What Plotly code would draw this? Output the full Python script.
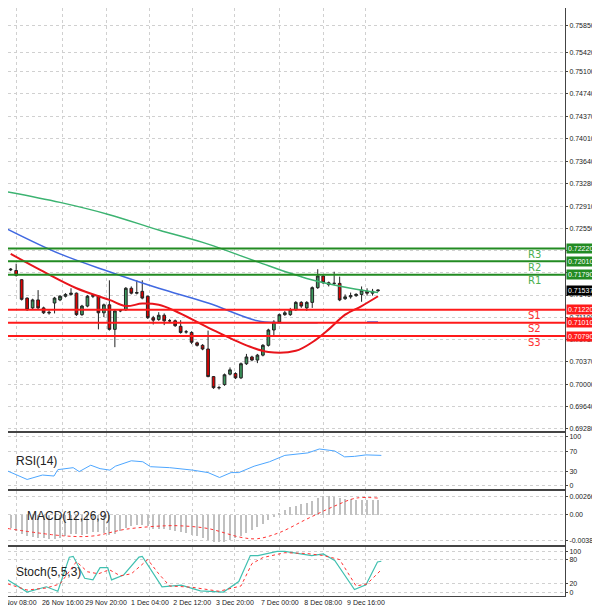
import plotly.graph_objects as go
from plotly.subplots import make_subplots

# 4H candles, index positions on x
opens = [0.7187,0.7186,0.7171,0.7141,0.7125,0.7138,0.7125,0.7118,0.7133,0.7138,0.7144,0.7147,0.7149,0.7114,0.7128,0.7144,0.7144,0.7117,0.7130,0.7090,0.7120,0.7122,0.7157,0.7149,0.7152,0.7144,0.7109,0.7106,0.7113,0.7104,0.7104,0.7095,0.7086,0.7085,0.7068,0.7064,0.7058,0.7013,0.6995,0.7000,0.7017,0.7018,0.7011,0.7034,0.7045,0.7040,0.7048,0.7064,0.7089,0.7102,0.7114,0.7114,0.7122,0.7134,0.7125,0.7134,0.7158,0.7177,0.7166,0.7165,0.7165,0.7140,0.7143,0.7145,0.7147,0.7152,0.7149,0.7153]
closes = [0.7188,0.7178,0.7139,0.7122,0.7138,0.7125,0.7117,0.7117,0.7141,0.7144,0.7147,0.7149,0.7114,0.7128,0.7144,0.7145,0.7117,0.7130,0.7090,0.7120,0.7121,0.7157,0.7149,0.7150,0.7141,0.7109,0.7105,0.7113,0.7104,0.7104,0.7096,0.7085,0.7086,0.7069,0.7064,0.7058,0.7013,0.6995,0.6995,0.7016,0.7024,0.7011,0.7034,0.7045,0.7040,0.7048,0.7064,0.7089,0.7102,0.7114,0.7117,0.7122,0.7134,0.7128,0.7134,0.7158,0.7177,0.7166,0.7163,0.7165,0.7138,0.7143,0.7145,0.7147,0.7154,0.7149,0.7152,0.7154]
highs = [0.7190,0.7197,0.7172,0.7142,0.7140,0.7154,0.7127,0.7121,0.7143,0.7146,0.7149,0.7157,0.7150,0.7130,0.7146,0.7147,0.7146,0.7132,0.7170,0.7122,0.7123,0.7159,0.7160,0.7170,0.7170,0.7145,0.7112,0.7118,0.7116,0.7107,0.7106,0.7105,0.7089,0.7087,0.7070,0.7066,0.7088,0.7014,0.6998,0.7018,0.7028,0.7020,0.7036,0.7050,0.7047,0.7050,0.7066,0.7091,0.7105,0.7116,0.7120,0.7125,0.7136,0.7136,0.7136,0.7160,0.7188,0.7179,0.7168,0.7184,0.7176,0.7147,0.7150,0.7149,0.7160,0.7157,0.7156,0.7155]
lows = [0.7185,0.7176,0.7137,0.7120,0.7123,0.7123,0.7115,0.7114,0.7116,0.7136,0.7142,0.7145,0.7112,0.7112,0.7126,0.7141,0.7090,0.7110,0.7088,0.7061,0.7118,0.7120,0.7147,0.7147,0.7139,0.7107,0.7098,0.7104,0.7097,0.7101,0.7094,0.7083,0.7083,0.7066,0.7062,0.7056,0.7012,0.6993,0.6992,0.6998,0.7015,0.7009,0.7009,0.7032,0.7038,0.7035,0.7046,0.7062,0.7080,0.7100,0.7112,0.7112,0.7120,0.7125,0.7120,0.7125,0.7156,0.7164,0.7160,0.7162,0.7136,0.7138,0.7140,0.7143,0.7135,0.7145,0.7145,0.7151]
bars = list(range(len(opens)))

ma_red_x = [0,6,12,18,21,24,27,30,36,43,47,52,55,58,61,64,67]
ma_red = [0.7213,0.7184,0.7157,0.7138,0.7128,0.7132,0.7130,0.7120,0.7093,0.7064,0.7053,0.7055,0.7069,0.7090,0.7114,0.7128,0.7144]
ma_blue_x = [-0.5,9,18,27,36,45,49,56,58,63,65,67]
ma_blue = [0.7253,0.7213,0.7184,0.7157,0.7133,0.7104,0.7101,0.7101,None,None,0.7102,0.7102]
ma_green_x = [-0.5,9,18,27,36,45,54,62,67]
ma_green = [0.7314,0.7297,0.7277,0.7252,0.7229,0.7200,0.7173,0.7157,0.7150]

res_levels = [0.7222, 0.7201, 0.7179]
sup_levels = [0.7122, 0.7101, 0.7079]
res_names = ["R3", "R2", "R1"]
sup_names = ["S1", "S2", "S3"]
last_price = 0.71537

rsi_x = [-0.5,3,5.8,7.9,8.6,11.4,12.5,14.6,16.3,18.1,19.1,22,24.1,25.5,29,33.2,36,38.1,40.2,41.6,44.4,47.2,50,54.2,56.3,59.1,60.9,62.7,64.8,67.6]
rsi = [30,13,22,20,33,37,29,42,35,32,40,51,49,39,37,32,27,17,27,27,40,49,62,67,75,71,59,60,63,62]

macd_hist = [-0.0020,-0.0024,-0.0028,-0.0031,-0.0033,-0.0034,-0.0035,-0.0036,-0.0036,-0.0034,
             -0.0031,-0.0029,-0.0028,-0.0030,-0.0028,-0.0025,-0.0026,-0.0027,-0.0030,-0.0028,
             -0.0024,-0.0020,-0.0017,-0.0016,-0.0016,-0.0017,-0.0021,-0.0022,-0.0022,-0.0023,
             -0.0024,-0.0026,-0.0027,-0.0030,-0.0032,-0.0034,-0.0038,-0.0040,-0.0041,-0.0040,
             -0.0037,-0.0034,-0.0032,-0.0027,-0.0023,-0.0019,-0.0014,-0.0008,-0.0003,0.0003,
             0.0007,0.0011,0.0013,0.0016,0.0017,0.0020,0.0024,0.0027,0.0027,0.0026,
             0.0024,0.0023,0.0023,0.0022,0.0022,0.0022,0.0021,0.0021]
macd_sig_x = [-0.5,10,15,21,28,31,36,42,45,49,54,59,63,67]
macd_sig = [-0.0021,-0.0032,-0.0032,-0.0022,-0.0017,-0.0017,-0.0021,-0.0034,-0.0036,-0.0027,-0.0007,0.0012,0.0024,0.0024]

stoch_x = [-0.5,3,6.5,8.6,10.7,11.4,13.5,15,16.3,17.7,18.4,20.6,23.4,24,27.6,31.1,34.6,38.8,41.6,43.7,45.1,48.6,50,54.9,57,59.1,62.7,64.8,66.9,67.6]
stoch_k = [30,0,13,2,86,88,34,30,60,60,30,42,86,88,13,17,3,0,26,90,90,100,100,90,94,78,6,18,74,76]
stoch_dx = [-0.5,3,6.5,9,12,14,16,18,20,22,25,27,29,33,38,42,44,46,50,54,57,60,63,65,67.6]
stoch_d = [20,5,10,20,75,50,45,55,40,45,80,45,15,12,2,15,70,85,97,95,90,80,15,20,55]

date_pos = [1, 9.5, 17.4, 25.4, 33.1, 40.9, 49.1, 57, 64.8]
date_labels = ["25 Nov 08:00", "26 Nov 16:00", "29 Nov 20:00", "1 Dec 04:00", "2 Dec 12:00",
               "3 Dec 20:00", "7 Dec 00:00", "8 Dec 08:00", "9 Dec 16:00"]
price_ticks = [0.7585,0.7542,0.7510,0.7474,0.7437,0.7401,0.7364,0.7328,0.7291,0.7255,0.7219,
               0.7182,0.7146,0.7110,0.7073,0.7037,0.7000,0.6964,0.6928]

fig = make_subplots(rows=4, cols=1, shared_xaxes=True, vertical_spacing=0.003)

fig.add_trace(go.Scatter(x=ma_green_x, y=ma_green, mode="lines", line=dict(color="#3cb371", width=1.5, shape="spline")), 1, 1)
fig.add_trace(go.Scatter(x=ma_blue_x, y=ma_blue, mode="lines", line=dict(color="#4169e1", width=1.5, shape="spline")), 1, 1)
fig.add_trace(go.Candlestick(x=bars, open=opens, high=highs, low=lows, close=closes, whiskerwidth=0,
                             increasing=dict(fillcolor="#3c9a5f", line=dict(color="#222", width=1)),
                             decreasing=dict(fillcolor="#e00000", line=dict(color="#222", width=1))), 1, 1)
fig.add_trace(go.Scatter(x=ma_red_x, y=ma_red, mode="lines", line=dict(color="#e8141b", width=2, shape="spline")), 1, 1)

for lv in res_levels:
    fig.add_hline(y=lv, line=dict(color="#228b22", width=2), row=1, col=1)
for lv in sup_levels:
    fig.add_hline(y=lv, line=dict(color="#ff1a1a", width=2), row=1, col=1)

fig.add_trace(go.Scatter(x=rsi_x, y=rsi, mode="lines", line=dict(color="#4da6ff", width=1)), 2, 1)
fig.add_trace(go.Bar(x=bars, y=macd_hist, marker=dict(color="#c0c0c0", line=dict(width=0)), width=0.2), 3, 1)
fig.add_trace(go.Scatter(x=macd_sig_x, y=macd_sig, mode="lines", line=dict(color="#ff3333", width=1, dash="dot", shape="spline")), 3, 1)
fig.add_trace(go.Scatter(x=stoch_x, y=stoch_k, mode="lines", line=dict(color="#40c0b0", width=1.2)), 4, 1)
fig.add_trace(go.Scatter(x=stoch_dx, y=stoch_d, mode="lines", line=dict(color="#ff3333", width=1, dash="dot")), 4, 1)

grid = dict(showgrid=True, gridcolor="#d0d0d0", griddash="dot", gridwidth=1)
ax_font = dict(family="Liberation Sans Narrow, Liberation Sans", size=7, color="#222")
for i in range(1, 5):
    fig.update_xaxes(row=i, col=1, range=[-0.49, 101.1], tickvals=date_pos, ticktext=[""] + date_labels[1:],
                     showticklabels=(i == 4), tickfont=ax_font, tickangle=0, zeroline=False,
                     showline=True, linecolor="#444", mirror=True, rangeslider=dict(visible=False), **grid)
fig.update_yaxes(row=1, col=1, domain=[0.281, 1], range=[0.69247, 0.76139], side="right",
                 tickvals=price_ticks, ticktext=["%.5f" % v for v in price_ticks], tickfont=ax_font, **grid)
fig.update_yaxes(row=2, col=1, domain=[0.1823, 0.2776], range=[-6, 108], side="right",
                 tickvals=[0, 30, 70, 100], tickfont=ax_font, **grid)
fig.update_yaxes(row=3, col=1, domain=[0.087, 0.179], range=[-0.00451, 0.00349], side="right",
                 tickvals=[-0.003817, 0, 0.002662], ticktext=["-0.003817", "0.00", "0.002662"], tickfont=ax_font, **grid)
fig.update_yaxes(row=4, col=1, domain=[0, 0.0836], range=[-9.7, 111.4], side="right",
                 tickvals=[0, 20, 80, 100], tickfont=ax_font, **grid)
for i in range(1, 5):
    fig.update_yaxes(row=i, col=1, showline=True, linecolor="#444", mirror=True, zeroline=False, ticks="outside", ticklen=2)

tag_font = dict(family="Liberation Sans", size=7, color="white")
ann = []
for lv, nm in zip(res_levels, res_names):
    ann.append(dict(x=0.96, xref="paper", y=lv - 0.0010, yref="y", text=nm, showarrow=False,
                    font=dict(family="DejaVu Sans", size=10, color="#4caf50")))
    ann.append(dict(x=1, xref="paper", xanchor="left", xshift=1, y=lv, yref="y", text="%.5f" % lv, showarrow=False,
                    bgcolor="#228b22", font=tag_font, borderpad=1))
for lv, nm in zip(sup_levels, sup_names):
    ann.append(dict(x=0.96, xref="paper", y=lv - 0.0010, yref="y", text=nm, showarrow=False,
                    font=dict(family="DejaVu Sans", size=10, color="#ff3030")))
    ann.append(dict(x=1, xref="paper", xanchor="left", xshift=1, y=lv, yref="y", text="%.5f" % lv, showarrow=False,
                    bgcolor="#ff1a1a", font=tag_font, borderpad=1))
ann.append(dict(x=1, xref="paper", xanchor="left", xshift=1, y=last_price, yref="y", text="%.5f" % last_price,
                showarrow=False, bgcolor="black", font=tag_font, borderpad=1))
ann.append(dict(x=date_pos[0], xref="x4", y=0, yref="paper", yanchor="top", yshift=-1, text=date_labels[0],
                showarrow=False, font=ax_font))
ann.append(dict(x=0.01, xref="paper", xanchor="left", y=50, yref="y2", text="RSI(14)", showarrow=False,
                font=dict(family="Liberation Sans", size=12, color="#222")))
ann.append(dict(x=0.03, xref="paper", xanchor="left", y=-0.0002, yref="y3", text="MACD(12,26,9)", showarrow=False,
                font=dict(family="Liberation Sans", size=12, color="#222")))
ann.append(dict(x=0.01, xref="paper", xanchor="left", y=50, yref="y4", text="Stoch(5,5,3)", showarrow=False,
                font=dict(family="Liberation Sans", size=12, color="#222")))

fig.update_layout(width=600, height=615, margin=dict(l=0, r=43, t=0, b=27), showlegend=False,
                  plot_bgcolor="white", paper_bgcolor="white", bargap=0, annotations=ann)
fig.write_html("out.html")
